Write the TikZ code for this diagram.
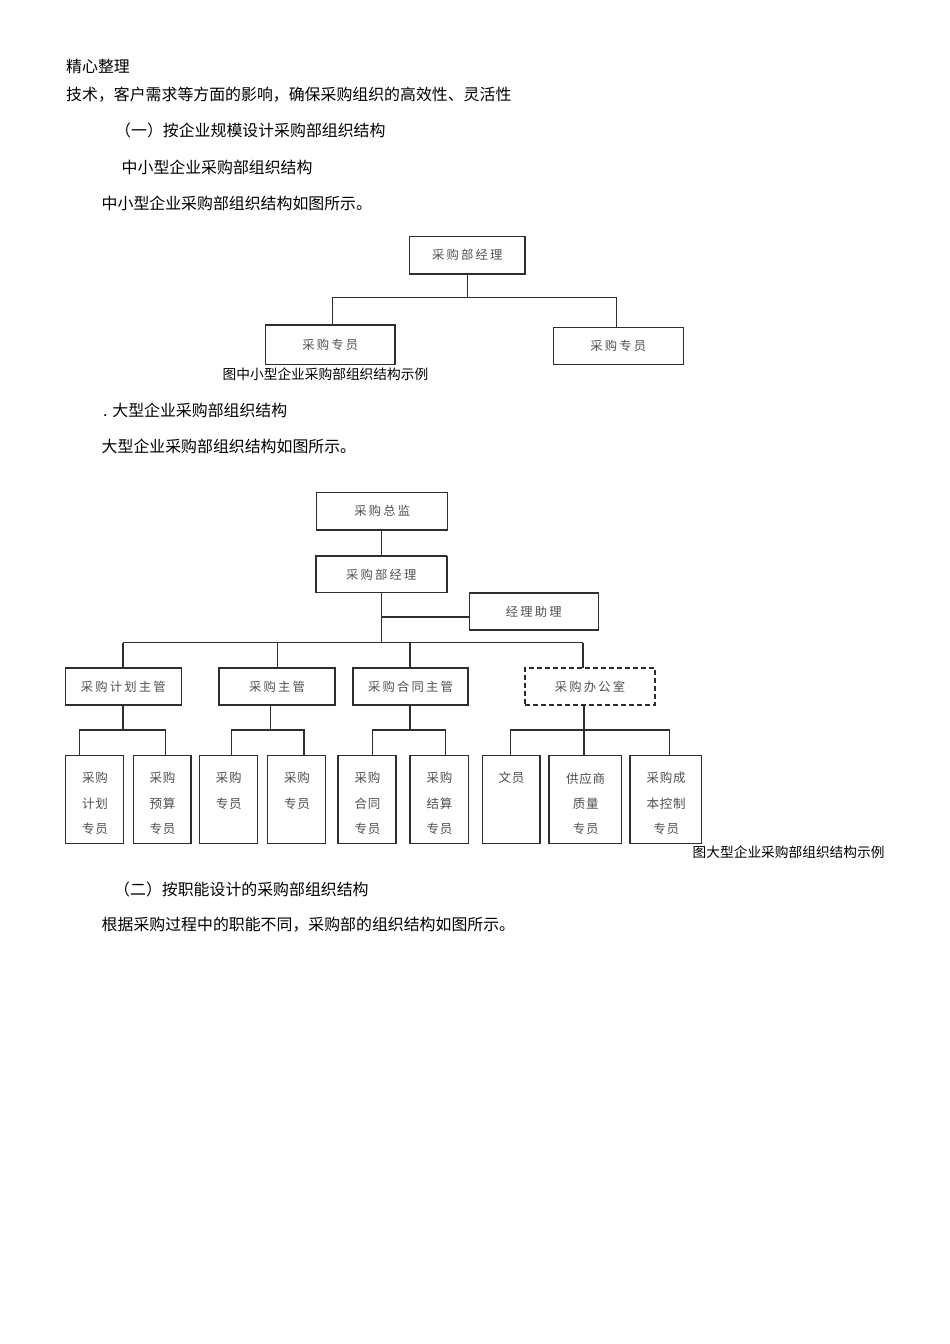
\documentclass[tikz,border=0pt]{standalone}
\usepackage{fontspec}
\setmainfont{Noto Sans CJK SC}
\newfontfamily\boxfont[LetterSpace=18]{Noto Sans CJK SC}
\newfontfamily\leaffont[LetterSpace=6]{Noto Sans CJK SC}
\definecolor{linec}{HTML}{2E2E2E}
\definecolor{boxtext}{HTML}{505050}
\begin{document}
\begin{tikzpicture}[x=1pt,y=-1pt,
  box/.style={draw=linec, line width=1.25pt, inner sep=0pt, outer sep=0pt, text=boxtext,
    font=\boxfont\fontsize{12.3}{14}\selectfont},
  dbox/.style={box, dash pattern=on 5pt off 3pt},
  leaf/.style={box, minimum height=87.6},
  leaftxt/.style={anchor=north, inner sep=0pt, align=center, text=boxtext,
    font=\leaffont\fontsize{12.5}{25.2}\selectfont},
  body/.style={anchor=base west, inner sep=0pt, font=\fontsize{15.9}{18}\selectfont},
  captxt/.style={anchor=base west, inner sep=0pt, font=\fontsize{13.7}{16}\selectfont},
  conn/.style={draw=linec, line width=1.25pt}]
\useasboundingbox (0,0) rectangle (950,1344);
\fill[white] (0,0) rectangle (950,1344);

% ---- body text ----
\node[body] (t1) at (66,72) {精心整理};
\node[body] (t2) at (66,100.5) {技术，客户需求等方面的影响，确保采购组织的高效性、灵活性};
\node[body] (t3) at (115,136.5) {（一）按企业规模设计采购部组织结构};
\node[body] (t4) at (121.5,173) {中小型企业采购部组织结构};
\node[body] (t5) at (101.5,209.5) {中小型企业采购部组织结构如图所示。};
\node[captxt] (c1) at (222.5,379.5) {图中小型企业采购部组织结构示例};
\node[body] (t6) at (103,416) {. 大型企业采购部组织结构};
\node[body] (t7) at (101.5,452) {大型企业采购部组织结构如图所示。};
\node[captxt] (c2) at (692.5,857.5) {图大型企业采购部组织结构示例};
\node[body] (t8) at (114,895) {（二）按职能设计的采购部组织结构};
\node[body] (t9) at (101.5,930) {根据采购过程中的职能不同，采购部的组织结构如图所示。};

% ---- small chart ----
\node[box, minimum width=115.7, minimum height=37.3] (s0) at (467.2,255.3) {采购部经理};
\node[box, minimum width=129.3, minimum height=39.3] (s1) at (330.3,344.7) {采购专员};
\node[box, minimum width=130, minimum height=37] (s2) at (618.3,345.8) {采购专员};
\draw[line width=2.2pt, linec] (s1.north west) -- (s1.north east);
\coordinate (sj) at (467.7,297.7);
\coordinate (sl) at (332.3,325);
\coordinate (sr) at (616.7,327.3);
\draw[conn] (s0.south -| sj) -- (sj);
\draw[conn] (sl) |- (sj) -| (sr);

% ---- large chart ----
\node[box, minimum width=131, minimum height=37.3] (m0) at (382.2,511.3) {采购总监};
\node[box, minimum width=130.7, minimum height=36.7] (m1) at (381.3,574.3) {采购部经理};
\draw[line width=2pt, linec] (m1.north east) -- (m1.south east);
\node[box, minimum width=129, minimum height=37] (ma) at (533.8,611.5) {经理助理};
\coordinate (mj) at (381.7,642.7);
\coordinate (mk) at (381.7,617);
\draw[conn] (m0.south -| mj) -- (m1.north -| mj);
\draw[conn] (m1.south -| mj) -- (mj);
\draw[conn] (ma.west |- mk) -- (mk);

% level 2
\node[box, minimum width=116, minimum height=37] (b1) at (123.2,686.5) {采购计划主管};
\node[box, minimum width=116, minimum height=37] (b2) at (277,686.5) {采购主管};
\node[box, minimum width=115, minimum height=37] (b3) at (410.5,686.5) {采购合同主管};
\node[dbox, minimum width=130, minimum height=37] (b4) at (590,686.5) {采购办公室};
\coordinate (h1) at (123,642.7);
\coordinate (h2) at (277.7,642.7);
\coordinate (h3) at (410,642.7);
\coordinate (h4) at (583,642.7);
\draw[conn] (h1) -- (h4);
\draw[conn] (h1) -- (b1.north -| h1);
\draw[conn] (h2) -- (b2.north -| h2);
\draw[conn] (h3) -- (b3.north -| h3);
\draw[conn] (h4) -- (b4.north -| h4);

% leaves
\node[leaf, minimum width=57.6] (l1) at (94.5,799.5) {};
\node[leaf, minimum width=57.7] (l2) at (162.2,799.5) {};
\node[leaf, minimum width=58] (l3) at (228.3,799.5) {};
\node[leaf, minimum width=58] (l4) at (296.7,799.5) {};
\node[leaf, minimum width=58] (l5) at (367,799.5) {};
\node[leaf, minimum width=58.3] (l6) at (439.2,799.5) {};
\node[leaf, minimum width=57.7] (l7) at (511.2,799.5) {};
\node[leaf, minimum width=72.7] (l8) at (585.3,799.5) {};
\node[leaf, minimum width=71.7] (l9) at (665.8,799.5) {};
\foreach \n/\t in {l1/{采购\\计划\\专员}, l2/{采购\\预算\\专员}, l3/{采购\\专员}, l4/{采购\\专员},
  l5/{采购\\合同\\专员}, l6/{采购\\结算\\专员}, l7/{文员}, l8/{供应商\\质量\\专员}, l9/{采购成\\本控制\\专员}}
  \node[leaftxt] (\n t) at ([xshift=0.4pt,yshift=-16.5pt]\n.north) {\t};

% group connectors
\coordinate (g1) at (123,730);
\coordinate (g2) at (270.7,730);
\coordinate (g3) at (410,730);
\coordinate (g4) at (584,730);
\draw[conn] (b1.south -| g1) -- (g1);
\draw[conn] (b2.south -| g2) -- (g2);
\draw[conn] (b3.south -| g3) -- (g3);
\draw[conn] (b4.south -| g4) -- (g4);
\coordinate (d1) at (79.3,755.7);   \coordinate (d2) at (165.7,755.7);
\coordinate (d3) at (231.7,755.7);  \coordinate (d4) at (304,755.7);
\coordinate (d5) at (372.7,755.7);  \coordinate (d6) at (445.7,755.7);
\coordinate (d7) at (510.7,755.7);  \coordinate (d8) at (584,755.7);
\coordinate (d9) at (669.3,755.7);
\draw[conn] (d1) |- (g1) -| (d2);
\draw[conn] (d3) |- (g2) -| (d4);
\draw[conn] (d5) |- (g3) -| (d6);
\draw[conn] (d7) |- (g4) -| (d9);
\draw[conn] (g4) -- (d8);
\end{tikzpicture}
\end{document}
